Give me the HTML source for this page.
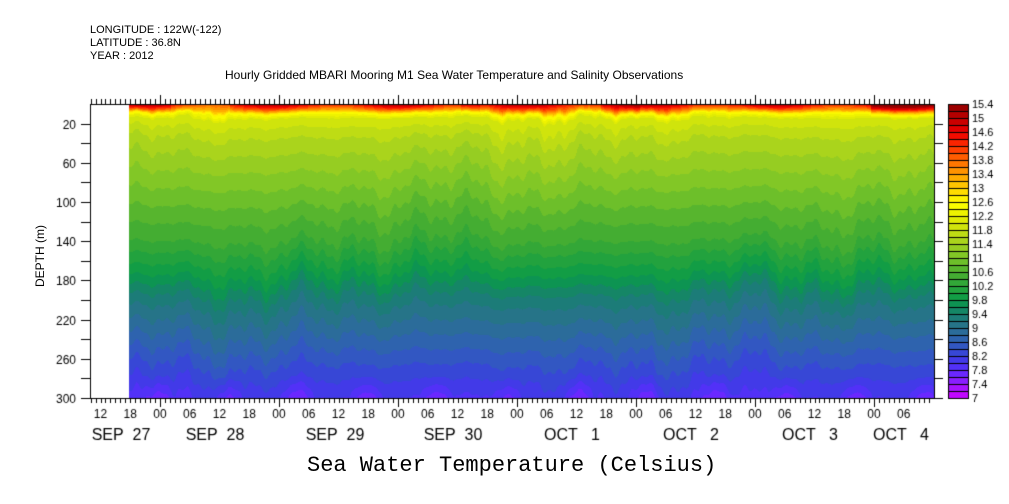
<!DOCTYPE html>
<html><head><meta charset="utf-8"><style>
body{margin:0;background:#fff;width:1009px;height:504px;overflow:hidden;position:relative;font-family:"Liberation Sans",sans-serif;}
.t{position:absolute;font-size:11px;color:#000;white-space:nowrap;}
canvas{position:absolute;left:0;top:0;}
</style></head><body>
<canvas id="c" width="1009" height="504"></canvas>
<div class="t" style="left:90px;top:24px;line-height:13px;font-size:11px">LONGITUDE : 122W(-122)<br>LATITUDE : 36.8N<br>YEAR : 2012</div>
<div class="t" style="left:225px;top:68px;font-size:12px">Hourly Gridded MBARI Mooring M1 Sea Water Temperature and Salinity Observations</div>
<div class="t" style="left:307px;top:453px;font-size:22px;font-family:'Liberation Mono','DejaVu Sans Mono',monospace;">Sea Water Temperature (Celsius)</div>
<div class="t" style="left:10px;top:250px;transform:rotate(-90deg);transform-origin:center;font-size:12px;width:60px;text-align:center">DEPTH (m)</div>
<script>
const c=document.getElementById('c').getContext('2d');
const L=90,R=934,T=104,B=398,X0=129;
const anchors=[[7,'#cc00ff'],[7.4,'#9a1aff'],[7.8,'#5a2cff'],[8.2,'#3a3fe0'],[8.6,'#2f5fb8'],[9,'#2a7090'],[9.4,'#188070'],[9.8,'#0a9a48'],[10.2,'#2aa43a'],[10.6,'#4cb030'],[11,'#78c428'],[11.4,'#a0d020'],[11.8,'#c8e010'],[12.2,'#e8ee00'],[12.6,'#ffff00'],[13,'#ffd000'],[13.4,'#ffa000'],[13.8,'#ff6a00'],[14.2,'#ff3000'],[14.6,'#ee0000'],[15,'#c00000'],[15.4,'#900000']];
function hx(h){return [parseInt(h.substr(1,2),16),parseInt(h.substr(3,2),16),parseInt(h.substr(5,2),16)];}
function col(v){if(v<=7)return hx(anchors[0][1]);for(let i=0;i<anchors.length-1;i++){const a=anchors[i],b=anchors[i+1];if(v<=b[0]){const f=(v-a[0])/(b[0]-a[0]);const A=hx(a[1]),Bc=hx(b[1]);return A.map((x,k)=>Math.round(x+(Bc[k]-x)*f));}}return hx('#900000');}
const prof=[[0,14.7],[5,13.7],[9,12.6],[14,12.0],[30,11.65],[60,11.3],[100,10.85],[140,10.4],[170,9.9],[200,9.3],[240,8.75],[270,8.35],[300,8.0]];
function P(d){if(d<=0)return prof[0][1]+(-d)*0.2;for(let i=0;i<prof.length-1;i++){const a=prof[i],b=prof[i+1];if(d<=b[0])return a[1]+(b[1]-a[1])*(d-a[0])/(b[0]-a[0]);}return 8.0-(d-300)*0.01;}
const img=c.createImageData(R-X0,B-T);
for(let x=X0;x<R;x++){
 const w=7*Math.sin(x*0.11)+6*Math.sin(x*0.043+1)+4*Math.sin(x*0.27+2)+5*Math.sin(x*0.019)+3*Math.sin(x*0.61);
 const hot=(x>870?1.0:0)+0.5*Math.sin(x*0.05+0.5)+(x>600&&x<640?0.5:0)+(x>460&&x<480?0.5:0)-(x>170&&x<230?0.4:0);
 for(let y=T;y<B;y++){
  const d=(y-T)*300/294;
  const sc=Math.min(1,d/40);
  const w2=w*(0.6+0.4*Math.sin(d*0.02+x*0.013));
  let v=P(d+w2*sc);
  if(d<14)v+=hot*(1-d/14)*1.0;
  if(d>275)v-=0.35*Math.max(0,Math.sin(x*0.09))*(d-275)/25;
  v=Math.floor(v/0.2)*0.2+0.1;
  const C=col(v);const i=((y-T)*(R-X0)+(x-X0))*4;
  img.data[i]=C[0];img.data[i+1]=C[1];img.data[i+2]=C[2];img.data[i+3]=255;}
}
c.putImageData(img,X0,T);
c.strokeStyle='#000';c.lineWidth=1;
c.strokeRect(L+0.5,T+0.5,R-L,B-T);
function ln(a,b,e,f){c.beginPath();c.moveTo(a,b);c.lineTo(e,f);c.stroke();}
const pd=119,ppx=pd/24;
for(let h=-14;h<=24*6+14;h++){const x=Math.round(160+h*ppx)+0.5;if(x<L||x>R)continue;const mj=((h%24)+24)%24==0;const l=mj?9:5;ln(x,B,x,B+l);ln(x,T,x,T-l);}
c.font='12px "Liberation Sans",sans-serif';c.fillStyle='#000';c.textAlign='right';
for(let d=0;d<=300;d+=20){const y=Math.round(T+d*294/300)+0.5;if(d==0)continue;ln(L-9,y,L,y);ln(R,y,R+9,y);if(d%40==20||d==300){c.fillText(String(d),L-14,y+4);}}
c.textAlign='center';
const hl=['00','06','12','18'];
for(let h=-12;h<=24*6+6;h+=6){const x=160+h*ppx;c.fillText(hl[((h/6)%4+4)%4],x,418);}
c.font='16px "Liberation Sans",sans-serif';
const days=[['SEP  27',121],['SEP  28',215],['SEP  29',335],['SEP  30',453],['OCT   1',572],['OCT   2',691],['OCT   3',810],['OCT   4',901]];
days.forEach(d=>c.fillText(d[0],d[1],440));
const cx=948,cw=20;c.textAlign='left';c.font='11px "Liberation Sans",sans-serif';
for(let i=0;i<42;i++){const v=7+i*0.2+0.1;const C=col(v);const y0=B-(i+1)*7;c.fillStyle=`rgb(${C})`;c.fillRect(cx,y0,cw,7);c.strokeStyle='#000';c.strokeRect(cx+0.5,y0+0.5,cw,7);}
c.fillStyle='#000';
for(let i=0;i<=21;i++){const v=(7+i*0.4);const y=B-i*14;let s=(Math.round(v*10)/10).toString();c.fillText(s,cx+cw+4,y+4);}
</script>
</body></html>
